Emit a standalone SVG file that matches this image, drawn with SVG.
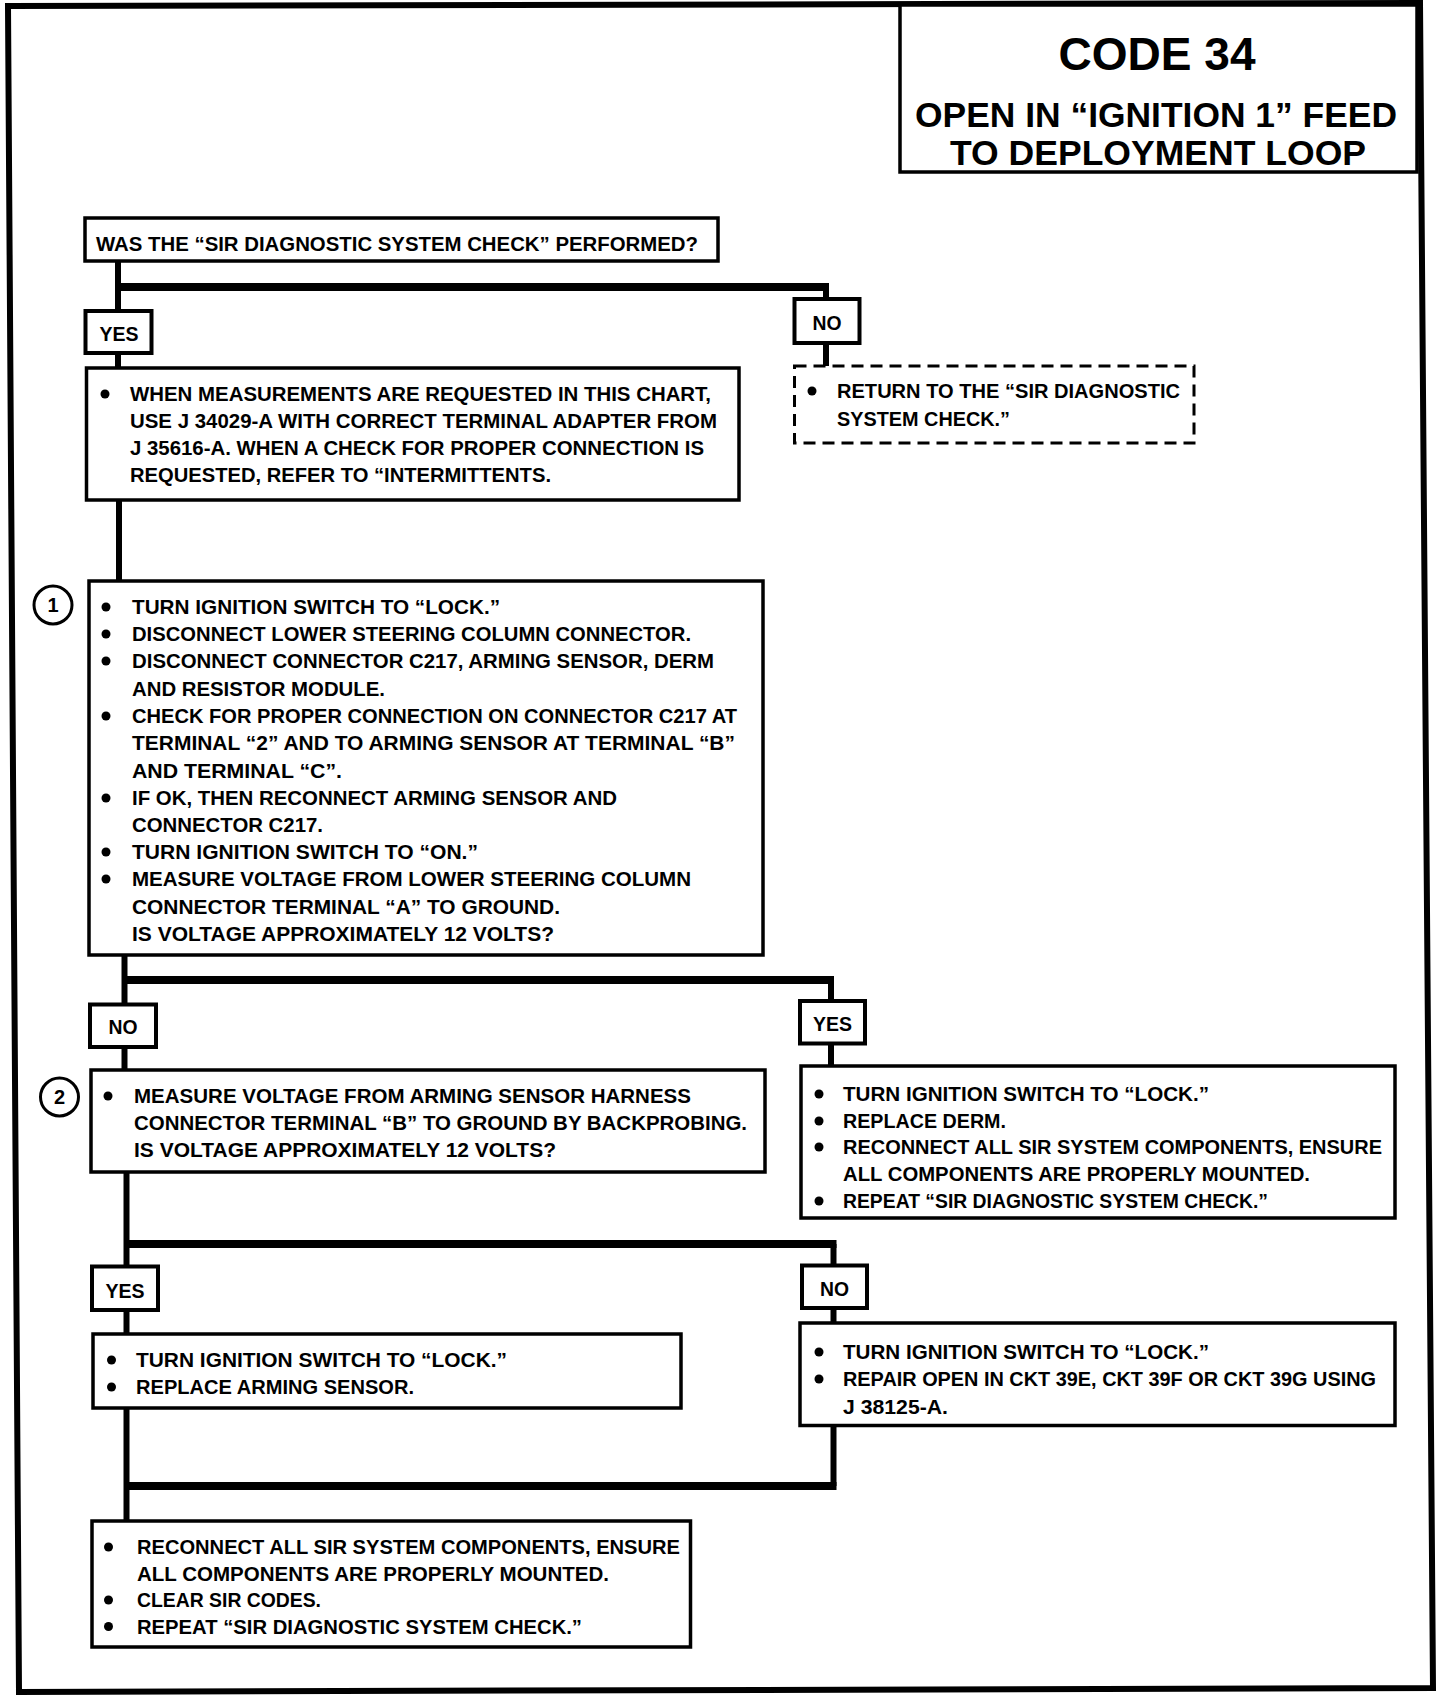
<svg xmlns="http://www.w3.org/2000/svg" width="1456" height="1698" viewBox="0 0 1456 1698">
<style>
.box{fill:#fff;stroke:#000;stroke-width:3.5}
.lbl{fill:#fff;stroke:#000;stroke-width:4}
.dash{fill:#fff;stroke:#000;stroke-width:3;stroke-dasharray:12 7}
.t{font-family:"Liberation Sans",Arial,sans-serif;font-weight:bold;font-size:20px;fill:#000}
.lt{font-family:"Liberation Sans",Arial,sans-serif;font-weight:bold;font-size:20px;fill:#000;text-anchor:middle}
.hd{font-family:"Liberation Sans",Arial,sans-serif;font-weight:bold;fill:#000;text-anchor:middle}
.v{stroke:#000;stroke-width:6;fill:none}
.h{stroke:#000;stroke-width:8;fill:none}
.num{fill:#fff;stroke:#000;stroke-width:3}
</style>
<rect width="1456" height="1698" fill="#fff"/>
<path d="M8,6 L1420,3 L1433,1688 L19,1692 Z" fill="none" stroke="#000" stroke-width="6"/>

<g id="connectors">
<path class="v" d="M118,261 V311"/>
<path class="h" d="M118,287 H829"/>
<path class="v" d="M826,287 V299"/>
<path class="v" d="M118,353 V368"/>
<path class="v" d="M826,343 V366"/>
<path class="v" d="M119,500 V581"/>
<path class="v" d="M124.5,955 V1004.5"/>
<path class="h" d="M124.5,980 H834"/>
<path class="v" d="M831,980 V1001"/>
<path class="v" d="M124.5,1047 V1070"/>
<path class="v" d="M831,1043.5 V1066"/>
<path class="v" d="M126.5,1172 V1266.5"/>
<path class="h" d="M126.5,1244 H836.5"/>
<path class="v" d="M833.5,1244 V1265.5"/>
<path class="v" d="M126.5,1310 V1334"/>
<path class="v" d="M833.5,1308 V1323"/>
<path class="v" d="M126.5,1408 V1520"/>
<path class="v" d="M833.5,1425 V1486"/>
<path class="h" d="M126.5,1486 H836.5"/>
</g>

<g id="title">
<rect x="900" y="5" width="517" height="167" class="box"/>
<text class="hd" x="1157" y="70" font-size="47" textLength="197" lengthAdjust="spacingAndGlyphs">CODE 34</text>
<text class="hd" x="1156" y="127" font-size="35" textLength="482" lengthAdjust="spacingAndGlyphs">OPEN IN “IGNITION 1” FEED</text>
<text class="hd" x="1158" y="165" font-size="35" textLength="416" lengthAdjust="spacingAndGlyphs">TO DEPLOYMENT LOOP</text>
</g>

<g id="q-check">
<rect x="85" y="218" width="633" height="43" class="box"/>
<text class="t" x="96" y="251" textLength="602" lengthAdjust="spacingAndGlyphs">WAS THE “SIR DIAGNOSTIC SYSTEM CHECK” PERFORMED?</text>
</g>

<g id="yes1">
<rect x="85.5" y="311" width="66" height="42" class="lbl"/>
<text class="lt" x="119" y="341" textLength="39" lengthAdjust="spacingAndGlyphs">YES</text>
</g>

<g id="no1">
<rect x="794.5" y="299" width="65" height="44" class="lbl"/>
<text class="lt" x="827" y="330" textLength="29" lengthAdjust="spacingAndGlyphs">NO</text>
</g>

<g id="box-a">
<rect x="86.5" y="368" width="652.5" height="132" class="box"/>
<circle cx="105" cy="394" r="4.5"/>
<text class="t" x="130" y="401" textLength="581" lengthAdjust="spacingAndGlyphs">WHEN MEASUREMENTS ARE REQUESTED IN THIS CHART,</text>
<text class="t" x="130" y="428" textLength="587" lengthAdjust="spacingAndGlyphs">USE J 34029-A WITH CORRECT TERMINAL ADAPTER FROM</text>
<text class="t" x="130" y="455" textLength="574" lengthAdjust="spacingAndGlyphs">J 35616-A.  WHEN A CHECK FOR PROPER CONNECTION IS</text>
<text class="t" x="130" y="482" textLength="421" lengthAdjust="spacingAndGlyphs">REQUESTED, REFER TO “INTERMITTENTS.</text>
</g>

<g id="return-box">
<rect x="794.5" y="366" width="399.5" height="77" class="dash"/>
<circle cx="812" cy="391" r="4.5"/>
<text class="t" x="837" y="398" textLength="343" lengthAdjust="spacingAndGlyphs">RETURN TO THE “SIR DIAGNOSTIC</text>
<text class="t" x="837" y="426" textLength="173" lengthAdjust="spacingAndGlyphs">SYSTEM CHECK.”</text>
</g>

<g id="step1">
<circle cx="53" cy="605" r="19" class="num"/>
<text class="lt" x="53" y="612">1</text>
<rect x="89" y="581" width="674" height="374" class="box"/>
<circle cx="106" cy="607" r="4.5"/>
<text class="t" x="132" y="614" textLength="368" lengthAdjust="spacingAndGlyphs">TURN IGNITION SWITCH TO “LOCK.”</text>
<circle cx="106" cy="634" r="4.5"/>
<text class="t" x="132" y="641" textLength="559" lengthAdjust="spacingAndGlyphs">DISCONNECT LOWER STEERING COLUMN CONNECTOR.</text>
<circle cx="106" cy="661" r="4.5"/>
<text class="t" x="132" y="668" textLength="582" lengthAdjust="spacingAndGlyphs">DISCONNECT CONNECTOR C217, ARMING SENSOR, DERM</text>
<text class="t" x="132" y="696" textLength="253" lengthAdjust="spacingAndGlyphs">AND RESISTOR MODULE.</text>
<circle cx="106" cy="716" r="4.5"/>
<text class="t" x="132" y="723" textLength="605" lengthAdjust="spacingAndGlyphs">CHECK FOR PROPER CONNECTION ON CONNECTOR C217 AT</text>
<text class="t" x="132" y="750" textLength="603" lengthAdjust="spacingAndGlyphs">TERMINAL “2” AND TO ARMING SENSOR AT TERMINAL “B”</text>
<text class="t" x="132" y="778" textLength="210" lengthAdjust="spacingAndGlyphs">AND TERMINAL “C”.</text>
<circle cx="106" cy="798" r="4.5"/>
<text class="t" x="132" y="805" textLength="485" lengthAdjust="spacingAndGlyphs">IF OK, THEN RECONNECT ARMING SENSOR AND</text>
<text class="t" x="132" y="832" textLength="191" lengthAdjust="spacingAndGlyphs">CONNECTOR C217.</text>
<circle cx="106" cy="852" r="4.5"/>
<text class="t" x="132" y="859" textLength="346" lengthAdjust="spacingAndGlyphs">TURN IGNITION SWITCH TO “ON.”</text>
<circle cx="106" cy="879" r="4.5"/>
<text class="t" x="132" y="886" textLength="559" lengthAdjust="spacingAndGlyphs">MEASURE VOLTAGE FROM LOWER STEERING COLUMN</text>
<text class="t" x="132" y="914" textLength="428" lengthAdjust="spacingAndGlyphs">CONNECTOR TERMINAL “A” TO GROUND.</text>
<text class="t" x="132" y="941" textLength="422" lengthAdjust="spacingAndGlyphs">IS VOLTAGE APPROXIMATELY 12 VOLTS?</text>
</g>

<g id="no2">
<rect x="90" y="1004.5" width="66" height="42.5" class="lbl"/>
<text class="lt" x="123" y="1034" textLength="29" lengthAdjust="spacingAndGlyphs">NO</text>
</g>

<g id="yes2">
<rect x="800" y="1001" width="65" height="42.5" class="lbl"/>
<text class="lt" x="832.5" y="1031" textLength="39" lengthAdjust="spacingAndGlyphs">YES</text>
</g>

<g id="step2">
<circle cx="59.5" cy="1097" r="19" class="num"/>
<text class="lt" x="59.5" y="1104">2</text>
<rect x="91" y="1070" width="674" height="102" class="box"/>
<circle cx="108" cy="1096" r="4.5"/>
<text class="t" x="134" y="1103" textLength="557" lengthAdjust="spacingAndGlyphs">MEASURE VOLTAGE FROM ARMING SENSOR HARNESS</text>
<text class="t" x="134" y="1130" textLength="613" lengthAdjust="spacingAndGlyphs">CONNECTOR TERMINAL “B” TO GROUND BY BACKPROBING.</text>
<text class="t" x="134" y="1157" textLength="422" lengthAdjust="spacingAndGlyphs">IS VOLTAGE APPROXIMATELY 12 VOLTS?</text>
</g>

<g id="replace-derm">
<rect x="801" y="1066" width="594" height="152" class="box"/>
<circle cx="819" cy="1094" r="4.5"/>
<text class="t" x="843" y="1101" textLength="366" lengthAdjust="spacingAndGlyphs">TURN IGNITION SWITCH TO “LOCK.”</text>
<circle cx="819" cy="1121" r="4.5"/>
<text class="t" x="843" y="1128" textLength="163" lengthAdjust="spacingAndGlyphs">REPLACE DERM.</text>
<circle cx="819" cy="1147" r="4.5"/>
<text class="t" x="843" y="1154" textLength="539" lengthAdjust="spacingAndGlyphs">RECONNECT ALL SIR SYSTEM COMPONENTS, ENSURE</text>
<text class="t" x="843" y="1181" textLength="467" lengthAdjust="spacingAndGlyphs">ALL COMPONENTS ARE PROPERLY MOUNTED.</text>
<circle cx="819" cy="1201" r="4.5"/>
<text class="t" x="843" y="1208" textLength="425" lengthAdjust="spacingAndGlyphs">REPEAT “SIR DIAGNOSTIC SYSTEM CHECK.”</text>
</g>

<g id="yes3">
<rect x="92" y="1266.5" width="66" height="43.5" class="lbl"/>
<text class="lt" x="125" y="1298" textLength="39" lengthAdjust="spacingAndGlyphs">YES</text>
</g>

<g id="no3">
<rect x="802" y="1265.5" width="65" height="42.5" class="lbl"/>
<text class="lt" x="834.5" y="1296" textLength="29" lengthAdjust="spacingAndGlyphs">NO</text>
</g>

<g id="replace-sensor">
<rect x="93" y="1334" width="588" height="74" class="box"/>
<circle cx="111.5" cy="1360" r="4.5"/>
<text class="t" x="136" y="1367" textLength="371" lengthAdjust="spacingAndGlyphs">TURN IGNITION SWITCH TO “LOCK.”</text>
<circle cx="111.5" cy="1387" r="4.5"/>
<text class="t" x="136" y="1394" textLength="278" lengthAdjust="spacingAndGlyphs">REPLACE ARMING SENSOR.</text>
</g>

<g id="repair-open">
<rect x="800" y="1323" width="595" height="102.5" class="box"/>
<circle cx="819" cy="1352" r="4.5"/>
<text class="t" x="843" y="1359" textLength="366" lengthAdjust="spacingAndGlyphs">TURN IGNITION SWITCH TO “LOCK.”</text>
<circle cx="819" cy="1379" r="4.5"/>
<text class="t" x="843" y="1386" textLength="533" lengthAdjust="spacingAndGlyphs">REPAIR OPEN IN CKT 39E, CKT 39F OR CKT 39G USING</text>
<text class="t" x="843" y="1414" textLength="105" lengthAdjust="spacingAndGlyphs">J 38125-A.</text>
</g>

<g id="final">
<rect x="92" y="1521" width="598.5" height="126" class="box"/>
<circle cx="108.5" cy="1547" r="4.5"/>
<text class="t" x="137" y="1554" textLength="543" lengthAdjust="spacingAndGlyphs">RECONNECT ALL SIR SYSTEM COMPONENTS, ENSURE</text>
<text class="t" x="137" y="1580.5" textLength="472" lengthAdjust="spacingAndGlyphs">ALL COMPONENTS ARE PROPERLY MOUNTED.</text>
<circle cx="108.5" cy="1600" r="4.5"/>
<text class="t" x="137" y="1607" textLength="184" lengthAdjust="spacingAndGlyphs">CLEAR SIR CODES.</text>
<circle cx="108.5" cy="1626.5" r="4.5"/>
<text class="t" x="137" y="1633.5" textLength="445" lengthAdjust="spacingAndGlyphs">REPEAT “SIR DIAGNOSTIC SYSTEM CHECK.”</text>
</g>
</svg>
